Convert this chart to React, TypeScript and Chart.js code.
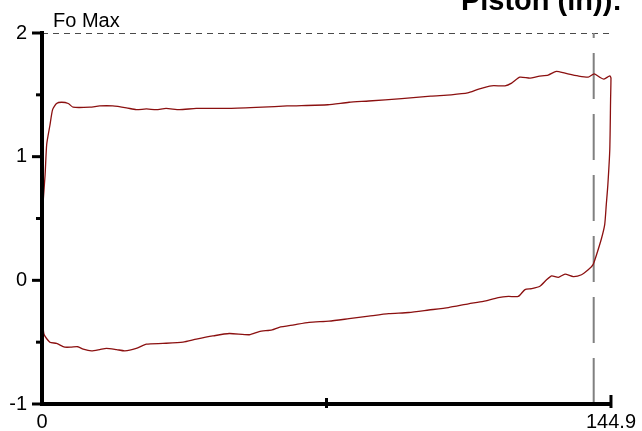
import React, { useEffect, useRef } from 'react';
import { Chart, registerables } from 'chart.js';

Chart.register(...registerables);

// Dynamometer card loop: piston position (in) vs load (Fo Max units)
const positionIn = [
  0, 0.1, 0.8, 1.2, 2.0, 2.7, 3.7, 5.0, 6.7, 7.9, 12.2, 14.7, 18.0, 21.5, 24.0, 26.6, 29.1, 31.6, 35.0, 39.3,
  47.7, 56.1, 62.4, 72.8, 78.2, 83.2, 91.6, 99.0, 104.2, 108.4, 111.2, 114.5, 117.9, 119.6, 121.7, 124.3, 126.4,
  128.9, 131.0, 133.2, 136.5, 139.1, 140.6, 142.0, 143.1, 144.6, 144.9,
  144.8, 144.6, 144.1, 143.7, 143.3, 142.5, 141.2, 140.3,
  139.1, 137.4, 135.3, 133.2, 131.5, 129.8, 128.5, 126.8, 124.7, 123.0, 121.3, 118.8, 116.2, 112.4, 108.6, 103.5,
  98.5, 93.4, 88.3, 83.2, 78.2, 73.1, 68.0, 64.2, 60.4, 58.6, 55.3, 52.8, 47.7, 43.5, 39.3, 35.9, 30.8, 26.6,
  24.0, 21.1, 19.0, 16.4, 14.7, 12.6, 10.5, 9.1, 7.5, 5.8, 3.7, 2.0, 0.5, 0.2, 0,
];
const loadFo = [
  0.0, 0.53, 0.86, 1.1, 1.25, 1.38, 1.43, 1.44, 1.43, 1.40, 1.40, 1.41, 1.41, 1.395, 1.38, 1.386, 1.38, 1.39, 1.38, 1.39,
  1.39, 1.40, 1.41, 1.42, 1.44, 1.45, 1.47, 1.49, 1.50, 1.515, 1.546, 1.573, 1.573, 1.595, 1.643, 1.635, 1.65,
  1.66, 1.69, 1.675, 1.653, 1.643, 1.67, 1.643, 1.627, 1.653, 1.635,
  1.46, 1.06, 0.77, 0.61, 0.45, 0.34, 0.205, 0.125,
  0.085, 0.045, 0.03, 0.05, 0.024, 0.036, 0.004, -0.048, -0.067, -0.075, -0.13, -0.13, -0.14, -0.17, -0.19, -0.22,
  -0.24, -0.26, -0.27, -0.29, -0.31, -0.33, -0.34, -0.36, -0.38, -0.40, -0.415, -0.44, -0.43, -0.45, -0.476, -0.50, -0.51, -0.516,
  -0.55, -0.57, -0.56, -0.55, -0.56, -0.57, -0.556, -0.537, -0.54, -0.54, -0.51, -0.50, -0.436, -0.30, 0.0,
];

const xTickValues = [0, 72.45, 144.9];
const xTickLabels = ['0', '', '144.9'];
const xMajorTicks = [0, 144.9];
const yTickValues = [-1, -0.5, 0, 0.5, 1, 1.5, 2];
const yTickLabels = ['-1', '', '0', '', '1', '', '2'];
const foMaxLevel = 2;
const strokeMarker = 140.5;
const titleText = 'Piston (in)):';
const yAxisTitle = 'Fo Max';

const overlayPlugin = {
  id: 'cardOverlay',
  beforeDatasetsDraw(chart: any) {
    const { ctx, chartArea, scales } = chart;
    const xs = scales.x;
    const ys = scales.y;
    ctx.save();
    // Fo Max dashed horizontal line
    ctx.strokeStyle = '#4a4a4a';
    ctx.lineWidth = 1;
    ctx.setLineDash([6, 5]);
    const yMax = Math.round(ys.getPixelForValue(foMaxLevel)) + 0.5;
    ctx.beginPath();
    ctx.moveTo(chartArea.left, yMax);
    ctx.lineTo(chartArea.right, yMax);
    ctx.stroke();
    // stroke marker dashed vertical line
    ctx.strokeStyle = '#808080';
    ctx.lineWidth = 2;
    ctx.setLineDash([46, 15]);
    const xm = xs.getPixelForValue(strokeMarker);
    ctx.beginPath();
    ctx.moveTo(xm, ys.getPixelForValue(-1));
    ctx.lineTo(xm, ys.getPixelForValue(foMaxLevel));
    ctx.stroke();
    ctx.restore();
  },
  afterDatasetsDraw(chart: any) {
    const { ctx, scales } = chart;
    const xs = scales.x;
    const ys = scales.y;
    const x0 = xs.getPixelForValue(0);
    const x1 = xs.getPixelForValue(144.9);
    const yb = ys.getPixelForValue(-1);
    const yt = ys.getPixelForValue(2);
    ctx.save();
    ctx.setLineDash([]);
    ctx.strokeStyle = '#000';
    ctx.lineWidth = 4;
    ctx.lineCap = 'butt';
    // axes
    ctx.beginPath();
    ctx.moveTo(x0, yt - 2);
    ctx.lineTo(x0, yb + 2);
    ctx.moveTo(x0 - 2, yb);
    ctx.lineTo(x1, yb);
    ctx.stroke();
    // y ticks
    ctx.lineWidth = 3;
    yTickValues.forEach((v) => {
      const py = ys.getPixelForValue(v);
      const major = Number.isInteger(v);
      ctx.beginPath();
      ctx.moveTo(x0 - (major ? 10 : 6), py);
      ctx.lineTo(x0 + 1, py);
      ctx.stroke();
    });
    // x ticks
    xTickValues.forEach((v) => {
      if (v === 0) return;
      const px = xs.getPixelForValue(v);
      const major = xMajorTicks.includes(v);
      ctx.beginPath();
      ctx.moveTo(px, yb - (major ? 9 : 6));
      ctx.lineTo(px, yb + 4);
      ctx.stroke();
    });
    // texts
    ctx.fillStyle = '#000';
    ctx.font = '20px "Liberation Sans", Arial, sans-serif';
    ctx.textAlign = 'left';
    ctx.textBaseline = 'alphabetic';
    ctx.fillText(yAxisTitle, x0 + 11, 27);
    ctx.font = 'bold 29px "Liberation Sans", Arial, sans-serif';
    ctx.textAlign = 'right';
    ctx.fillText(titleText, 622, 10);
    ctx.restore();
  },
};

export default function App() {
  const canvasRef = useRef<HTMLCanvasElement | null>(null);
  useEffect(() => {
    const canvas = canvasRef.current;
    if (!canvas) return;
    const chart = new Chart(canvas, {
      type: 'scatter',
      data: {
        datasets: [
          {
            data: positionIn.map((x, i) => ({ x, y: loadFo[i] })),
            showLine: true,
            borderColor: '#8b1010',
            borderWidth: 1.3,
            pointRadius: 0,
            tension: 0.2,
            fill: false,
            clip: false as any,
          },
        ],
      },
      options: {
        responsive: false,
        animation: false,
        events: [],
        layout: { padding: { top: 33, right: 29, left: 0, bottom: 0 } },
        plugins: { legend: { display: false }, tooltip: { enabled: false }, title: { display: false } },
        scales: {
          x: {
            type: 'linear',
            min: 0,
            max: 144.9,
            afterBuildTicks: (s: any) => {
              s.ticks = xTickValues.map((value) => ({ value }));
            },
            afterFit: (s: any) => {
              s.height = 24;
            },
            grid: { display: false, drawTicks: false, tickLength: 0 },
            border: { display: false },
            ticks: {
              autoSkip: false,
              maxRotation: 0,
              padding: 6,
              color: '#000',
              font: { family: '"Liberation Sans", Arial, sans-serif', size: 20 },
              callback: (_v: any, i: number) => xTickLabels[i],
            },
          },
          y: {
            type: 'linear',
            min: -1,
            max: 2,
            afterBuildTicks: (s: any) => {
              s.ticks = yTickValues.map((value) => ({ value }));
            },
            afterFit: (s: any) => {
              s.width = 42;
            },
            grid: { display: false, drawTicks: false, tickLength: 0 },
            border: { display: false },
            ticks: {
              autoSkip: false,
              padding: 15,
              color: '#000',
              font: { family: '"Liberation Sans", Arial, sans-serif', size: 20 },
              callback: (_v: any, i: number) => yTickLabels[i],
            },
          },
        },
      },
      plugins: [overlayPlugin],
    });
    return () => chart.destroy();
  }, []);
  return (
    <div style={{ position: 'fixed', left: 0, top: 0, width: 642, height: 431, background: '#fff' }}>
      <canvas ref={canvasRef} width={642} height={431} />
    </div>
  );
}
